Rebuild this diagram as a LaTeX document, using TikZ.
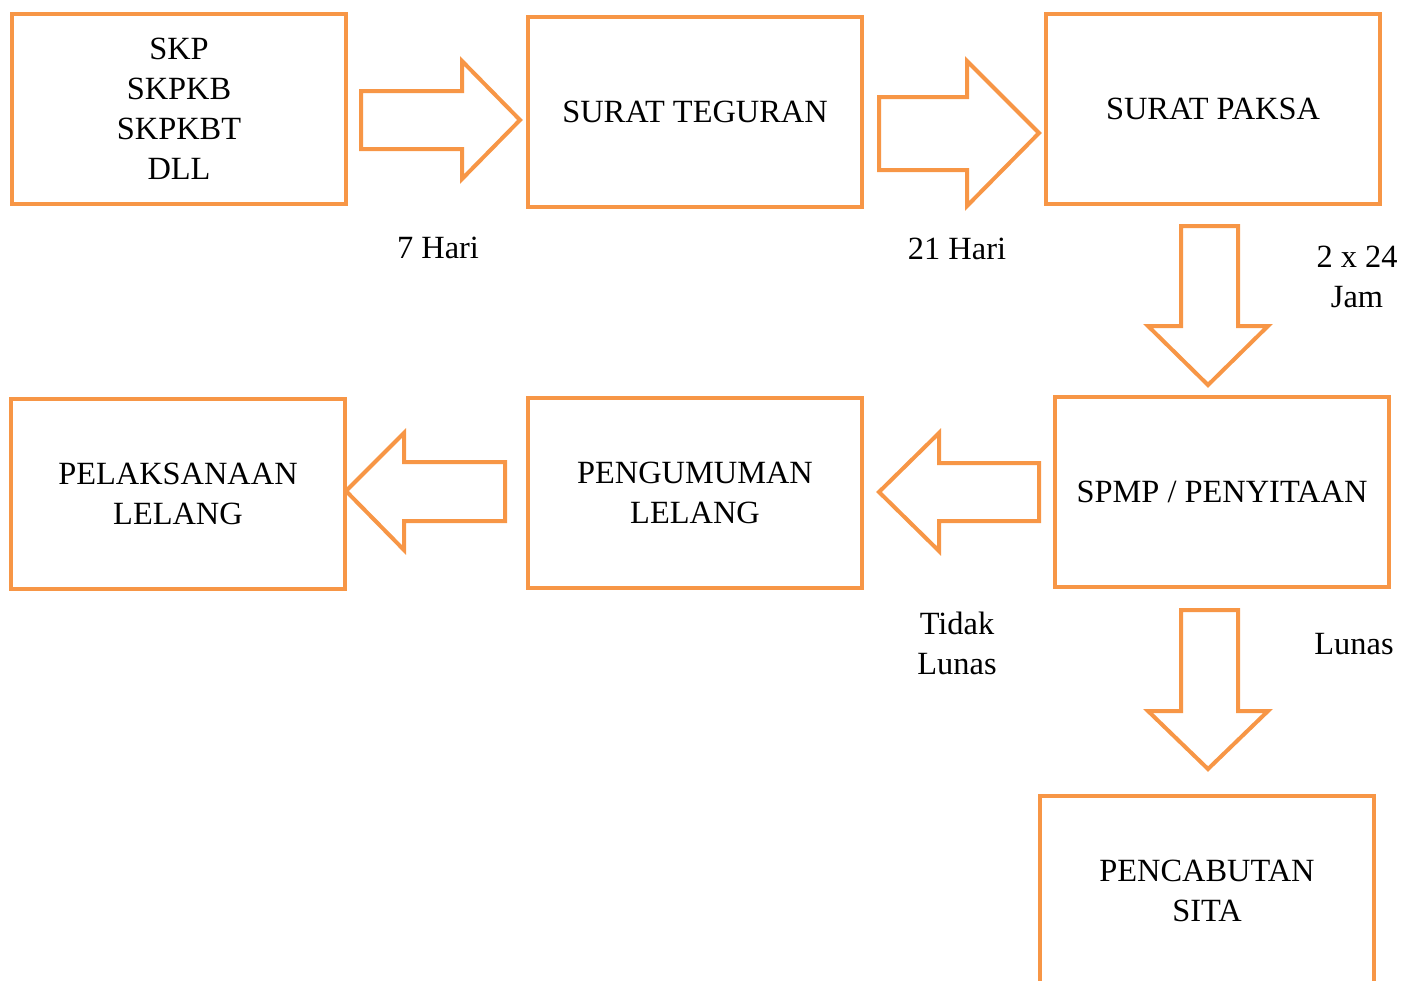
\documentclass[tikz,border=0pt]{standalone}
\usepackage{fontspec}
\setmainfont{Liberation Serif}
\definecolor{boxorange}{HTML}{F79646}
\begin{document}
\begin{tikzpicture}[x=1pt,y=-1pt,
  box/.style={draw=boxorange,line width=4pt,minimum width=334pt,minimum height=190pt,inner sep=0pt,align=center,font=\fontsize{32.4}{40}\selectfont},
  blockarrow/.style={draw=boxorange,line width=4pt,line join=miter,fill=white},
  lbl/.style={align=center,inner sep=0pt,font=\fontsize{32.4}{40}\selectfont}]
\useasboundingbox (0,0) rectangle (1416,980);
\clip (0,0) rectangle (1416,980);
% boxes
\node[box] (skp) at (179,109) {SKP\\SKPKB\\SKPKBT\\DLL};
\node[box] (teguran) at (695,112) {SURAT TEGURAN};
\node[box] (paksa) at (1213,109) {SURAT PAKSA};
\node[box] (pelaksanaan) at (178,494) {PELAKSANAAN\\LELANG};
\node[box] (pengumuman) at (695,493) {PENGUMUMAN\\LELANG};
\node[box] (spmp) at (1222,492) {SPMP / PENYITAAN};
\node[box] (pencabutan) at (1207,891) {PENCABUTAN\\SITA};
% block arrows
\draw[blockarrow] (361,91) -- (462,91) -- (462,61) -- (520,120) -- (462,179) -- (462,149) -- (361,149) -- cycle;
\draw[blockarrow] (879,97) -- (967,97) -- (967,61) -- (1039,133) -- (967,206) -- (967,170) -- (879,170) -- cycle;
\draw[blockarrow] (1181,226) -- (1238,226) -- (1238,326) -- (1268,326) -- (1208,385) -- (1148,326) -- (1181,326) -- cycle;
\draw[blockarrow] (1039,463) -- (939,463) -- (939,433) -- (879,492) -- (939,551) -- (939,521) -- (1039,521) -- cycle;
\draw[blockarrow] (505,462) -- (404,462) -- (404,433) -- (346,491) -- (404,550) -- (404,521) -- (505,521) -- cycle;
\draw[blockarrow] (1181,610) -- (1238,610) -- (1238,711) -- (1268,711) -- (1208,769) -- (1148,711) -- (1181,711) -- cycle;
% labels
\node[lbl] (l7) at (438,248) {7 Hari};
\node[lbl] (l21) at (957,249) {21 Hari};
\node[lbl] (l224) at (1357,277) {2 x 24\\Jam};
\node[lbl] (ltidak) at (957,643) {Tidak\\Lunas};
\node[lbl] (llunas) at (1354,644) {Lunas};
\end{tikzpicture}
\end{document}
